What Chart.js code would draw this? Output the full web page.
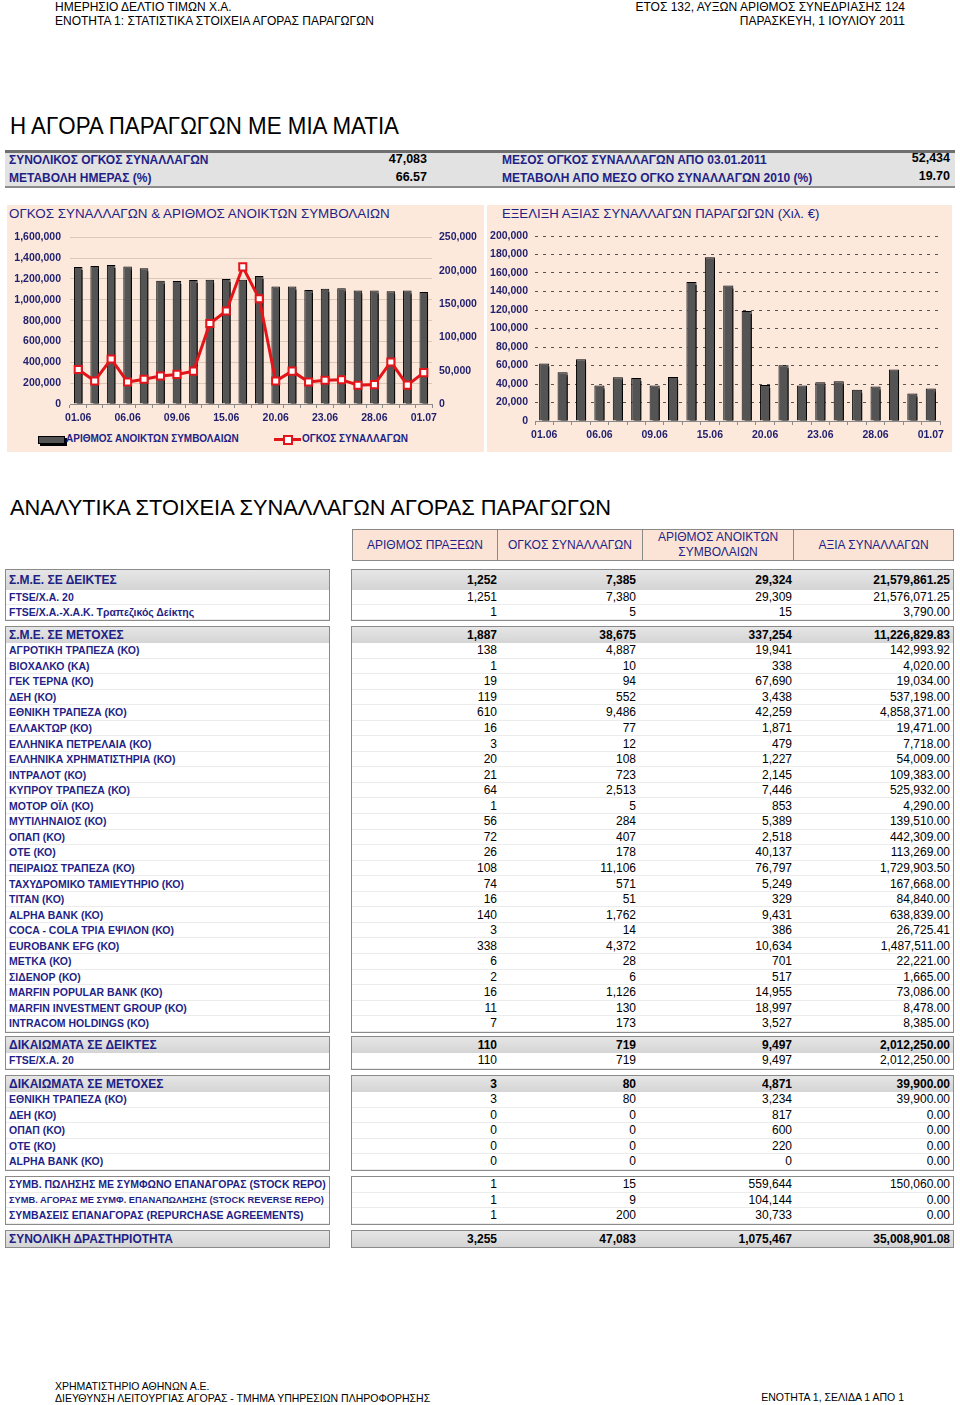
<!DOCTYPE html>
<html>
<head>
<meta charset="utf-8">
<script src="https://cdn.jsdelivr.net/npm/chart.js@4.4.1/dist/chart.umd.min.js"></script>
<style>
body{margin:0;background:#fff;width:960px;height:1405px;position:relative;overflow:hidden;font-family:"Liberation Sans",Arial,sans-serif;}
.abs{position:absolute;white-space:nowrap;}
.narrow{font-family:"Liberation Sans Narrow","Liberation Sans",Arial,sans-serif;}
.navy{color:#1f1f86;}
.panel{position:absolute;background:#fce9dc;}
.box{position:absolute;border:1px solid #8a8a8a;box-sizing:border-box;background:#fff;}
.row{position:absolute;left:0;right:0;border-bottom:1px solid #ececec;box-sizing:border-box;}
.grp{background:linear-gradient(#e6e6e6,#d4d4d4);border-bottom:none;}
.lbl{position:absolute;left:3px;top:50%;transform:translateY(-50%);font-weight:bold;font-size:10.5px;color:#1f1f86;}
.grp .lbl{font-size:12px;}
.val{position:absolute;top:50%;transform:translateY(-50%);font-size:12px;color:#000;}
.grp .val{font-weight:bold;}
.hcell{position:absolute;top:529px;height:32px;background:#fbe4d5;border:1px solid #8a8a8a;box-sizing:border-box;display:flex;align-items:center;justify-content:center;text-align:center;font-size:12px;line-height:15px;color:#1f1f86;}
</style>
</head>
<body>

<!-- page header -->
<div class="abs narrow" style="left:55px;top:0px;font-size:12px;">ΗΜΕΡΗΣΙΟ ΔΕΛΤΙΟ ΤΙΜΩΝ Χ.Α.</div>
<div class="abs narrow" style="left:55px;top:14px;font-size:12px;">ΕΝΟΤΗΤΑ 1: ΣΤΑΤΙΣΤΙΚΑ ΣΤΟΙΧΕΙΑ ΑΓΟΡΑΣ ΠΑΡΑΓΩΓΩΝ</div>
<div class="abs narrow" style="right:55px;top:0px;font-size:12px;">ΕΤΟΣ 132,  ΑΥΞΩΝ ΑΡΙΘΜΟΣ ΣΥΝΕΔΡΙΑΣΗΣ 124</div>
<div class="abs narrow" style="right:55px;top:14px;font-size:12px;">ΠΑΡΑΣΚΕΥΗ, 1 ΙΟΥΛΙΟΥ 2011</div>

<div class="abs narrow" style="left:10px;top:112px;font-size:24px;transform:scaleX(0.93);transform-origin:left top;">Η ΑΓΟΡΑ ΠΑΡΑΓΩΓΩΝ ΜΕ ΜΙΑ ΜΑΤΙΑ</div>

<!-- summary strip -->
<div class="abs" style="left:5px;top:150px;width:950px;height:38px;background:#e2e2e2;border-top:3px solid #6f6f6f;border-bottom:2px solid #8c8c8c;box-sizing:border-box;"></div>
<div class="abs navy" style="left:9px;top:153px;font-size:12px;font-weight:bold;">ΣΥΝΟΛΙΚΟΣ ΟΓΚΟΣ ΣΥΝΑΛΛΑΓΩΝ</div>
<div class="abs navy" style="left:9px;top:171px;font-size:12px;font-weight:bold;">ΜΕΤΑΒΟΛΗ ΗΜΕΡΑΣ (%)</div>
<div class="abs" style="right:533px;top:152px;font-size:12.5px;font-weight:bold;">47,083</div>
<div class="abs" style="right:533px;top:170px;font-size:12.5px;font-weight:bold;">66.57</div>
<div class="abs navy" style="left:502px;top:153px;font-size:12px;font-weight:bold;">ΜΕΣΟΣ ΟΓΚΟΣ ΣΥΝΑΛΛΑΓΩΝ ΑΠΟ 03.01.2011</div>
<div class="abs navy" style="left:502px;top:171px;font-size:12px;font-weight:bold;">ΜΕΤΑΒΟΛΗ ΑΠΟ ΜΕΣΟ ΟΓΚΟ ΣΥΝΑΛΛΑΓΩΝ 2010 (%)</div>
<div class="abs" style="right:10px;top:151px;font-size:12.5px;font-weight:bold;">52,434</div>
<div class="abs" style="right:10px;top:169px;font-size:12.5px;font-weight:bold;">19.70</div>

<!-- chart panels -->
<div class="panel" style="left:7px;top:205px;width:477px;height:247px;"></div>
<div class="panel" style="left:487px;top:205px;width:465px;height:247px;"></div>
<div class="abs navy" style="left:9px;top:206px;font-size:13.4px;">ΟΓΚΟΣ ΣΥΝΑΛΛΑΓΩΝ &amp; ΑΡΙΘΜΟΣ ΑΝΟΙΚΤΩΝ ΣΥΜΒΟΛΑΙΩΝ</div>
<div class="abs navy" style="left:502px;top:206px;font-size:13.2px;">ΕΞΕΛΙΞΗ ΑΞΙΑΣ ΣΥΝΑΛΛΑΓΩΝ ΠΑΡΑΓΩΓΩΝ (Χιλ. €)</div>

<div class="abs" style="left:7px;top:222px;width:475px;height:210px;"><canvas id="volChart"></canvas></div>
<div class="abs" style="left:487px;top:222px;width:465px;height:230px;"><canvas id="valChart"></canvas></div>

<!-- left chart legend -->
<div class="abs" style="left:38px;top:436px;width:25px;height:6px;background:#545454;border:1px solid #000;box-shadow:2px 2px 0 #000;"></div>
<div class="abs navy" style="left:66px;top:433px;font-size:10px;font-weight:bold;">ΑΡΙΘΜΟΣ ΑΝΟΙΚΤΩΝ ΣΥΜΒΟΛΑΙΩΝ</div>
<div class="abs" style="left:274px;top:438px;width:27px;height:3px;background:#e3151a;"></div>
<div class="abs" style="left:283px;top:435px;width:6px;height:6px;background:#fff;border:2px solid #e3151a;"></div>
<div class="abs navy" style="left:302px;top:433px;font-size:10px;font-weight:bold;">ΟΓΚΟΣ ΣΥΝΑΛΛΑΓΩΝ</div>

<div class="abs" style="left:10px;top:495px;font-size:21.8px;">ΑΝΑΛΥΤΙΚΑ ΣΤΟΙΧΕΙΑ ΣΥΝΑΛΛΑΓΩΝ ΑΓΟΡΑΣ ΠΑΡΑΓΩΓΩΝ</div>

<div id="table"></div>

<!-- footer -->
<div class="abs narrow" style="left:55px;top:1380px;font-size:10.5px;">ΧΡΗΜΑΤΙΣΤΗΡΙΟ ΑΘΗΝΩΝ Α.Ε.</div>
<div class="abs narrow" style="left:55px;top:1392px;font-size:10.5px;">ΔΙΕΥΘΥΝΣΗ ΛΕΙΤΟΥΡΓΙΑΣ ΑΓΟΡΑΣ - ΤΜΗΜΑ ΥΠΗΡΕΣΙΩΝ ΠΛΗΡΟΦΟΡΗΣΗΣ</div>
<div class="abs narrow" style="right:56px;top:1391px;font-size:10.5px;">ΕΝΟΤΗΤΑ 1, ΣΕΛΙΔΑ 1 ΑΠΟ 1</div>

<script>
// trading days, June 2011
const days = ['01.06','02.06','03.06','06.06','07.06','08.06','09.06','10.06','14.06','15.06','16.06',
    '17.06','20.06','21.06','22.06','23.06','24.06','27.06','28.06','29.06','30.06','01.07'];

// open interest (contracts) - bars, left axis
const openInterest = [1316000,1325000,1335000,1319000,1303000,1183000,1180000,1190000,1193000,1199000,1193000,
    1228000,1127000,1127000,1095000,1105000,1111000,1089000,1089000,1082000,1089000,1075467];

// traded volume (contracts) - line, right axis
const volume = [51800,34500,67600,33000,37000,41900,44400,49300,120800,139500,205600,
    157800,34500,49300,33000,35500,36500,28100,29100,63100,28266,47083];

// traded value (thousand euro)
const tradeValue = [62100,52700,66800,38300,47300,46600,38300,47700,150200,176900,146600,
    118800,39000,60300,38300,41900,43000,33900,37200,55600,29600,35009];

const tickFont = {family:'Liberation Sans', size:10.5, weight:'bold'};
const tickColor = '#1f1f6e';
const fmt = v => Number(v).toLocaleString('en-US');
const xLabel = function(val, i){ return i % 3 === 0 ? days[i] : ''; };

// shadow behind the bars, like the excel 3d look
const barShadow = {
    id:'barShadow',
    beforeDatasetDraw(chart, args){
        if(args.meta.type !== 'bar') return;
        const ctx = chart.ctx;
        ctx.save();
        ctx.shadowColor = '#000';
        ctx.shadowOffsetX = 3;
        ctx.shadowOffsetY = 3;
        ctx.shadowBlur = 0;
    },
    afterDatasetDraw(chart, args){
        if(args.meta.type !== 'bar') return;
        chart.ctx.restore();
    }
};

new Chart(document.getElementById('volChart'), {
    type:'bar',
    data:{
        labels:days,
        datasets:[{
            type:'line',
            label:'ΟΓΚΟΣ ΣΥΝΑΛΛΑΓΩΝ',
            data:volume,
            yAxisID:'y2',
            borderColor:'#e3151a',
            borderWidth:3,
            pointStyle:'rect',
            pointRadius:5,
            pointBorderWidth:2,
            pointBackgroundColor:'#fff',
            pointBorderColor:'#e3151a',
            tension:0,
            order:0
        },{
            label:'ΑΡΙΘΜΟΣ ΑΝΟΙΚΤΩΝ ΣΥΜΒΟΛΑΙΩΝ',
            data:openInterest,
            yAxisID:'y',
            backgroundColor:'#545454',
            borderColor:'#000',
            borderWidth:1,
            barPercentage:0.52,
            categoryPercentage:1,
            order:1
        }]
    },
    options:{
        responsive:true, maintainAspectRatio:false, animation:false,
        layout:{padding:{top:14,left:0,right:0,bottom:0}},
        plugins:{legend:{display:false}, tooltip:{enabled:false}},
        scales:{
            x:{
                offset:true,
                grid:{drawOnChartArea:false, tickLength:4, color:'#8a8a8a'},
                border:{color:'#8a8a8a'},
                ticks:{autoSkip:false, maxRotation:0, padding:4, font:tickFont, color:tickColor, callback:xLabel},
                afterFit:s=>{s.height = 28;}
            },
            y:{
                position:'left', min:0, max:1600000,
                ticks:{stepSize:200000, padding:9, font:tickFont, color:tickColor, callback:fmt},
                grid:{color:'#dcc8b6', drawTicks:false},
                border:{display:false},
                afterFit:s=>{s.width = 63;}
            },
            y2:{
                position:'right', min:0, max:250000,
                ticks:{stepSize:50000, padding:7, font:tickFont, color:tickColor, callback:fmt},
                grid:{display:false, drawTicks:false},
                border:{display:false},
                afterFit:s=>{s.width = 50;}
            }
        }
    },
    plugins:[barShadow]
});

new Chart(document.getElementById('valChart'), {
    type:'bar',
    data:{
        labels:days,
        datasets:[{
            label:'ΑΞΙΑ ΣΥΝΑΛΛΑΓΩΝ',
            data:tradeValue,
            backgroundColor:'#545454',
            borderColor:'#000',
            borderWidth:1,
            barPercentage:0.55,
            categoryPercentage:1
        }]
    },
    options:{
        responsive:true, maintainAspectRatio:false, animation:false,
        layout:{padding:{top:14,left:0,right:12,bottom:0}},
        plugins:{legend:{display:false}, tooltip:{enabled:false}},
        scales:{
            x:{
                offset:true,
                grid:{drawOnChartArea:false, tickLength:4, color:'#8a8a8a'},
                border:{color:'#8a8a8a'},
                ticks:{autoSkip:false, maxRotation:0, padding:4, font:tickFont, color:tickColor, callback:xLabel},
                afterFit:s=>{s.height = 31;}
            },
            y:{
                min:0, max:200000,
                ticks:{stepSize:20000, padding:7, font:tickFont, color:tickColor, callback:fmt},
                grid:{color:'#555', drawTicks:false},
                border:{display:false, dash:[3,5]},
                afterFit:s=>{s.width = 48;}
            }
        }
    },
    plugins:[barShadow]
});

// ---- detailed table ----
const colHeads = ['ΑΡΙΘΜΟΣ ΠΡΑΞΕΩΝ','ΟΓΚΟΣ ΣΥΝΑΛΛΑΓΩΝ','ΑΡΙΘΜΟΣ ΑΝΟΙΚΤΩΝ<br>ΣΥΜΒΟΛΑΙΩΝ','ΑΞΙΑ ΣΥΝΑΛΛΑΓΩΝ'];

const idxFutures = [
    ['Σ.Μ.Ε. ΣΕ ΔΕΙΚΤΕΣ','1,252','7,385','29,324','21,579,861.25'],
    ['FTSE/Χ.Α. 20','1,251','7,380','29,309','21,576,071.25'],
    ['FTSE/Χ.Α.-Χ.Α.Κ. Τραπεζικός Δείκτης','1','5','15','3,790.00']
];
const stockFutures = [
    ['Σ.Μ.Ε. ΣΕ ΜΕΤΟΧΕΣ','1,887','38,675','337,254','11,226,829.83'],
    ['ΑΓΡΟΤΙΚΗ ΤΡΑΠΕΖΑ (ΚΟ)','138','4,887','19,941','142,993.92'],
    ['ΒΙΟΧΑΛΚΟ (ΚΑ)','1','10','338','4,020.00'],
    ['ΓΕΚ  ΤΕΡΝΑ (ΚΟ)','19','94','67,690','19,034.00'],
    ['ΔΕΗ (ΚΟ)','119','552','3,438','537,198.00'],
    ['ΕΘΝΙΚΗ ΤΡΑΠΕΖΑ (ΚΟ)','610','9,486','42,259','4,858,371.00'],
    ['ΕΛΛΑΚΤΩΡ (ΚΟ)','16','77','1,871','19,471.00'],
    ['ΕΛΛΗΝΙΚΑ ΠΕΤΡΕΛΑΙΑ (ΚΟ)','3','12','479','7,718.00'],
    ['ΕΛΛΗΝΙΚΑ ΧΡΗΜΑΤΙΣΤΗΡΙΑ (ΚΟ)','20','108','1,227','54,009.00'],
    ['ΙΝΤΡΑΛΟΤ (ΚΟ)','21','723','2,145','109,383.00'],
    ['ΚΥΠΡΟΥ ΤΡΑΠΕΖΑ (ΚΟ)','64','2,513','7,446','525,932.00'],
    ['ΜΟΤΟΡ ΟΪΛ (ΚΟ)','1','5','853','4,290.00'],
    ['ΜΥΤΙΛΗΝΑΙΟΣ (ΚΟ)','56','284','5,389','139,510.00'],
    ['ΟΠΑΠ (ΚΟ)','72','407','2,518','442,309.00'],
    ['ΟΤΕ  (ΚΟ)','26','178','40,137','113,269.00'],
    ['ΠΕΙΡΑΙΩΣ ΤΡΑΠΕΖΑ (ΚΟ)','108','11,106','76,797','1,729,903.50'],
    ['ΤΑΧΥΔΡΟΜΙΚΟ ΤΑΜΙΕΥΤΗΡΙΟ (ΚΟ)','74','571','5,249','167,668.00'],
    ['ΤΙΤΑΝ (ΚΟ)','16','51','329','84,840.00'],
    ['ALPHA BANK (ΚΟ)','140','1,762','9,431','638,839.00'],
    ['COCA - COLA ΤΡΙΑ ΕΨΙΛΟΝ (ΚΟ)','3','14','386','26,725.41'],
    ['EUROBANK EFG (ΚΟ)','338','4,372','10,634','1,487,511.00'],
    ['ΜΕΤΚΑ (ΚΟ)','6','28','701','22,221.00'],
    ['ΣΙΔΕΝΟΡ (ΚΟ)','2','6','517','1,665.00'],
    ['MARFIN POPULAR BANK (ΚΟ)','16','1,126','14,955','73,086.00'],
    ['MARFIN INVESTMENT GROUP (ΚΟ)','11','130','18,997','8,478.00'],
    ['INTRACOM HOLDINGS (ΚΟ)','7','173','3,527','8,385.00']
];
const idxOptions = [
    ['ΔΙΚΑΙΩΜΑΤΑ ΣΕ ΔΕΙΚΤΕΣ','110','719','9,497','2,012,250.00'],
    ['FTSE/Χ.Α. 20','110','719','9,497','2,012,250.00']
];
const stockOptions = [
    ['ΔΙΚΑΙΩΜΑΤΑ ΣΕ ΜΕΤΟΧΕΣ','3','80','4,871','39,900.00'],
    ['ΕΘΝΙΚΗ ΤΡΑΠΕΖΑ (ΚΟ)','3','80','3,234','39,900.00'],
    ['ΔΕΗ (ΚΟ)','0','0','817','0.00'],
    ['ΟΠΑΠ (ΚΟ)','0','0','600','0.00'],
    ['ΟΤΕ  (ΚΟ)','0','0','220','0.00'],
    ['ALPHA BANK (ΚΟ)','0','0','0','0.00']
];
const repos = [
    ['ΣΥΜΒ. ΠΩΛΗΣΗΣ ΜΕ ΣΥΜΦΩΝΟ ΕΠΑΝΑΓΟΡΑΣ (STOCK REPO)','1','15','559,644','150,060.00'],
    ['ΣΥΜΒ. ΑΓΟΡΑΣ ΜΕ ΣΥΜΦ. ΕΠΑΝΑΠΩΛΗΣΗΣ (STOCK REVERSE REPO)','1','9','104,144','0.00'],
    ['ΣΥΜΒΑΣΕΙΣ ΕΠΑΝΑΓΟΡΑΣ (REPURCHASE AGREEMENTS)','1','200','30,733','0.00']
];
const totals = [
    ['ΣΥΝΟΛΙΚΗ ΔΡΑΣΤΗΡΙΟΤΗΤΑ','3,255','47,083','1,075,467','35,008,901.08']
];

// section layout: top y, group header height, row height, has group row
const sections = [
    {rows:idxFutures, top:569, gh:20, rh:15, grp:true},
    {rows:stockFutures, top:626, gh:16, rh:15.55, grp:true},
    {rows:idxOptions, top:1036, gh:16, rh:15.5, grp:true},
    {rows:stockOptions, top:1075, gh:16, rh:15.5, grp:true},
    {rows:repos, top:1176, gh:0, rh:15.5, grp:false},
    {rows:totals, top:1230, gh:16, rh:15.5, grp:true}
];
const valRight = [456, 317, 161, 3];   // right offsets inside the value box

const table = document.getElementById('table');
let html = '';
colHeads.forEach((h,i)=>{
    const xs = [352,497,642,793,953];
    html += `<div class="hcell narrow" style="left:${xs[i]}px;width:${xs[i+1]-xs[i]+1}px;">${h}</div>`;
});
sections.forEach(sec=>{
    let y = 0, left = '', right = '';
    sec.rows.forEach((r,i)=>{
        const isGrp = sec.grp && i === 0;
        const h = isGrp ? sec.gh : sec.rh;
        const small = r[0].length > 50 ? 'font-size:9.3px;' : '';
        left += `<div class="row${isGrp?' grp':''}" style="top:${y}px;height:${h}px;"><span class="lbl" style="${small}">${r[0]}</span></div>`;
        let v = '';
        for(let c=1;c<5;c++) v += `<span class="val narrow" style="right:${valRight[c-1]}px;">${r[c]}</span>`;
        right += `<div class="row${isGrp?' grp':''}" style="top:${y}px;height:${h}px;">${v}</div>`;
        y += h;
    });
    html += `<div class="box" style="left:5px;top:${sec.top}px;width:325px;height:${y+2}px;">${left}</div>`;
    html += `<div class="box" style="left:351px;top:${sec.top}px;width:603px;height:${y+2}px;">${right}</div>`;
});
table.innerHTML = html;
</script>
</body>
</html>
